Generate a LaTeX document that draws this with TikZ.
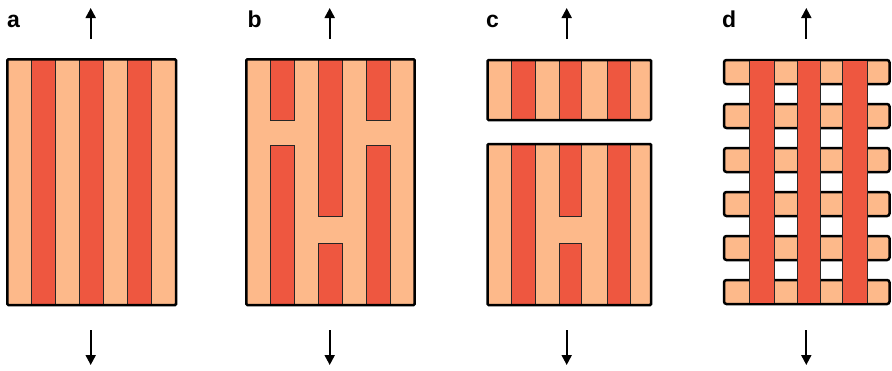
\documentclass[tikz,border=0pt]{standalone}
\usepackage{fontspec}
\setmainfont{Liberation Sans}
\usetikzlibrary{arrows.meta}
\definecolor{lite}{RGB}{253,185,138}
\definecolor{dark}{RGB}{238,87,64}
\begin{document}
\begin{tikzpicture}[x=1pt,y=-1pt,
  thinline/.style={draw=black!85,line width=1pt},
  frame/.style={draw=black,line width=2.5pt,rounded corners=1pt},
  flow/.style={line width=2pt,-{Triangle[length=10pt,width=10pt]}},
  lab/.style={font=\fontsize{23}{23}\selectfont\bfseries,anchor=base west,inner sep=0pt}]
\useasboundingbox (0,0) rectangle (892,370);

% ---------- panel a ----------
\fill[lite] (7.3,59.3) rectangle (176,305);
\foreach \i in {1,3,5}
  \filldraw[fill=dark,thinline] ({7.3+\i*24.1},59.3) rectangle ({7.3+(\i+1)*24.1},305);
\draw[frame] (7.3,59.3) rectangle (176,305);

% ---------- panel b ----------
\fill[lite] (246.3,59.3) rectangle (414.7,305);
\foreach \xa/\xb in {270.4/294.4,366.6/390.7}{
  \filldraw[fill=dark,thinline] (\xa,59.3) rectangle (\xb,120);
  \filldraw[fill=dark,thinline] (\xa,145) rectangle (\xb,305);
}
\filldraw[fill=dark,thinline] (318.5,59.3) rectangle (342.5,216.7);
\filldraw[fill=dark,thinline] (318.5,243.3) rectangle (342.5,305);
\draw[frame] (246.3,59.3) rectangle (414.7,305);

% ---------- panel c ----------
\fill[lite] (487.7,60) rectangle (651,120);
\fill[lite] (487.7,144) rectangle (651,305);
\foreach \xa/\xb in {511/535.3,559.3/581,607.7/630.3}
  \filldraw[fill=dark,thinline] (\xa,60) rectangle (\xb,120);
\foreach \xa/\xb in {511/535.3,607.7/630.3}
  \filldraw[fill=dark,thinline] (\xa,144) rectangle (\xb,305);
\filldraw[fill=dark,thinline] (559.3,144) rectangle (581,216.7);
\filldraw[fill=dark,thinline] (559.3,243.3) rectangle (581,305);
\draw[frame] (487.7,60) rectangle (651,120);
\draw[frame] (487.7,144) rectangle (651,305);

% ---------- panel d ----------
\foreach \y in {60,104,148,192,236,280}
  \filldraw[fill=lite,draw=black,line width=2.5pt,rounded corners=2.5pt] (724,\y) rectangle (889.5,\y+24);
\foreach \xa/\xb in {749/774,797.3/820.7,842.3/867.3}
  \filldraw[fill=dark,thinline] (\xa,60) rectangle (\xb,304);
\draw[black,line width=2.5pt] (745,60) -- (871,60);
\draw[black,line width=2.5pt] (745,304) -- (871,304);

% ---------- arrows ----------
\foreach \n/\x in {a/90.7,b/329.7,c/566.7,d/806.3}{
  \coordinate (\n-up-tail) at (\x,39);
  \coordinate (\n-up-tip) at (\x,8);
  \coordinate (\n-dn-tail) at (\x,330);
  \coordinate (\n-dn-tip) at (\x,365);
  \draw[flow] (\n-up-tail) -- (\n-up-tip);
  \draw[flow] (\n-dn-tail) -- (\n-dn-tip);
}

% ---------- labels ----------
\node[lab] (la) at (7,27) {a};
\node[lab] (lb) at (247.5,27) {b};
\node[lab] (lc) at (486,27) {c};
\node[lab] (ld) at (722,27) {d};
\end{tikzpicture}
\end{document}
